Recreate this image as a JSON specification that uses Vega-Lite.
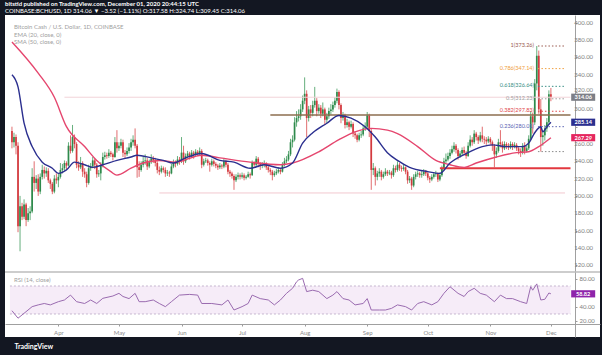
{
"$schema": "https://vega.github.io/schema/vega-lite/v6.json",
"autosize": {"type": "none"},
"width": 595,
"height": 322,
"padding": {"left": 5, "top": 15, "right": 2, "bottom": 18},
"background": "#131722",
"config": {"view": {"fill": "white", "stroke": null}, "font": "Lato", "axis": {"labelOverlap": false}},
"title": {"text": "bitstid published on TradingView.com, December 01, 2020 20:44:15 UTC", "subtitle": "COINBASE:BCHUSD, 1D  314.06 ▼ −3.52 (−1.11%)  O:317.58  H:324.74  L:309.45  C:314.06", "anchor": "start", "frame": "group", "color": "#ffffff", "fontSize": 6, "fontWeight": "bold", "subtitleColor": "#ffffff", "subtitleFontSize": 6, "subtitlePadding": 1.5, "offset": 1},
"data": {"values": [{}]},
"datasets": {
"candles": [
{"date":"2020-03-09","o":275,"h":280,"l":255,"c":262},
{"date":"2020-03-10","o":262,"h":273,"l":256,"c":268},
{"date":"2020-03-11","o":268,"h":271,"l":248,"c":258},
{"date":"2020-03-12","o":258,"h":262,"l":158,"c":165},
{"date":"2020-03-13","o":165,"h":200,"l":136,"c":188},
{"date":"2020-03-14","o":188,"h":192,"l":172,"c":176},
{"date":"2020-03-15","o":176,"h":196,"l":173,"c":190},
{"date":"2020-03-16","o":190,"h":192,"l":165,"c":172},
{"date":"2020-03-17","o":172,"h":186,"l":170,"c":180},
{"date":"2020-03-18","o":180,"h":188,"l":172,"c":182},
{"date":"2020-03-19","o":182,"h":232,"l":180,"c":222},
{"date":"2020-03-20","o":222,"h":240,"l":205,"c":215},
{"date":"2020-03-21","o":215,"h":224,"l":208,"c":220},
{"date":"2020-03-22","o":220,"h":225,"l":200,"c":205},
{"date":"2020-03-23","o":205,"h":226,"l":202,"c":222},
{"date":"2020-03-24","o":222,"h":236,"l":219,"c":230},
{"date":"2020-03-25","o":230,"h":234,"l":220,"c":226},
{"date":"2020-03-26","o":226,"h":233,"l":222,"c":229},
{"date":"2020-03-27","o":229,"h":232,"l":215,"c":218},
{"date":"2020-03-28","o":218,"h":220,"l":208,"c":214},
{"date":"2020-03-29","o":214,"h":216,"l":202,"c":205},
{"date":"2020-03-30","o":205,"h":224,"l":203,"c":220},
{"date":"2020-03-31","o":220,"h":226,"l":214,"c":218},
{"date":"2020-04-01","o":218,"h":226,"l":210,"c":222},
{"date":"2020-04-02","o":222,"h":238,"l":220,"c":230},
{"date":"2020-04-03","o":230,"h":237,"l":226,"c":232},
{"date":"2020-04-04","o":232,"h":241,"l":229,"c":238},
{"date":"2020-04-05","o":238,"h":240,"l":231,"c":235},
{"date":"2020-04-06","o":235,"h":262,"l":234,"c":258},
{"date":"2020-04-07","o":258,"h":270,"l":249,"c":252},
{"date":"2020-04-08","o":252,"h":282,"l":250,"c":268},
{"date":"2020-04-09","o":268,"h":271,"l":255,"c":260},
{"date":"2020-04-10","o":260,"h":262,"l":232,"c":236},
{"date":"2020-04-11","o":236,"h":240,"l":229,"c":233},
{"date":"2020-04-12","o":233,"h":245,"l":231,"c":238},
{"date":"2020-04-13","o":238,"h":240,"l":222,"c":228},
{"date":"2020-04-14","o":228,"h":232,"l":221,"c":225},
{"date":"2020-04-15","o":225,"h":228,"l":210,"c":215},
{"date":"2020-04-16","o":215,"h":236,"l":213,"c":232},
{"date":"2020-04-17","o":232,"h":238,"l":229,"c":234},
{"date":"2020-04-18","o":234,"h":245,"l":232,"c":241},
{"date":"2020-04-19","o":241,"h":243,"l":231,"c":236},
{"date":"2020-04-20","o":236,"h":238,"l":221,"c":225},
{"date":"2020-04-21","o":225,"h":230,"l":222,"c":226},
{"date":"2020-04-22","o":226,"h":239,"l":218,"c":236},
{"date":"2020-04-23","o":236,"h":250,"l":233,"c":245},
{"date":"2020-04-24","o":245,"h":251,"l":242,"c":247},
{"date":"2020-04-25","o":247,"h":250,"l":243,"c":246},
{"date":"2020-04-26","o":246,"h":254,"l":244,"c":250},
{"date":"2020-04-27","o":250,"h":252,"l":245,"c":248},
{"date":"2020-04-28","o":248,"h":250,"l":241,"c":245},
{"date":"2020-04-29","o":245,"h":268,"l":244,"c":262},
{"date":"2020-04-30","o":262,"h":276,"l":250,"c":255},
{"date":"2020-05-01","o":255,"h":262,"l":252,"c":258},
{"date":"2020-05-02","o":258,"h":266,"l":255,"c":262},
{"date":"2020-05-03","o":262,"h":265,"l":245,"c":250},
{"date":"2020-05-04","o":250,"h":253,"l":243,"c":248},
{"date":"2020-05-05","o":248,"h":256,"l":246,"c":252},
{"date":"2020-05-06","o":252,"h":261,"l":249,"c":256},
{"date":"2020-05-07","o":256,"h":266,"l":252,"c":262},
{"date":"2020-05-08","o":262,"h":270,"l":258,"c":265},
{"date":"2020-05-09","o":265,"h":278,"l":255,"c":258},
{"date":"2020-05-10","o":258,"h":260,"l":221,"c":233},
{"date":"2020-05-11","o":233,"h":240,"l":222,"c":230},
{"date":"2020-05-12","o":230,"h":240,"l":228,"c":236},
{"date":"2020-05-13","o":236,"h":245,"l":233,"c":240},
{"date":"2020-05-14","o":240,"h":248,"l":236,"c":241},
{"date":"2020-05-15","o":241,"h":244,"l":230,"c":234},
{"date":"2020-05-16","o":234,"h":242,"l":232,"c":239},
{"date":"2020-05-17","o":239,"h":248,"l":237,"c":243},
{"date":"2020-05-18","o":243,"h":246,"l":238,"c":241},
{"date":"2020-05-19","o":241,"h":244,"l":234,"c":238},
{"date":"2020-05-20","o":238,"h":240,"l":226,"c":230},
{"date":"2020-05-21","o":230,"h":234,"l":224,"c":228},
{"date":"2020-05-22","o":228,"h":235,"l":226,"c":232},
{"date":"2020-05-23","o":232,"h":234,"l":227,"c":230},
{"date":"2020-05-24","o":230,"h":233,"l":222,"c":226},
{"date":"2020-05-25","o":226,"h":230,"l":223,"c":227},
{"date":"2020-05-26","o":227,"h":229,"l":222,"c":226},
{"date":"2020-05-27","o":226,"h":237,"l":225,"c":234},
{"date":"2020-05-28","o":234,"h":242,"l":232,"c":238},
{"date":"2020-05-29","o":238,"h":241,"l":233,"c":237},
{"date":"2020-05-30","o":237,"h":246,"l":235,"c":242},
{"date":"2020-05-31","o":242,"h":245,"l":236,"c":240},
{"date":"2020-06-01","o":240,"h":268,"l":238,"c":250},
{"date":"2020-06-02","o":250,"h":258,"l":236,"c":240},
{"date":"2020-06-03","o":240,"h":249,"l":238,"c":246},
{"date":"2020-06-04","o":246,"h":252,"l":243,"c":249},
{"date":"2020-06-05","o":249,"h":251,"l":242,"c":245},
{"date":"2020-06-06","o":245,"h":253,"l":244,"c":250},
{"date":"2020-06-07","o":250,"h":252,"l":243,"c":248},
{"date":"2020-06-08","o":248,"h":254,"l":246,"c":251},
{"date":"2020-06-09","o":251,"h":253,"l":246,"c":249},
{"date":"2020-06-10","o":249,"h":256,"l":247,"c":252},
{"date":"2020-06-11","o":252,"h":254,"l":232,"c":236},
{"date":"2020-06-12","o":236,"h":243,"l":234,"c":240},
{"date":"2020-06-13","o":240,"h":244,"l":238,"c":241},
{"date":"2020-06-14","o":241,"h":243,"l":235,"c":238},
{"date":"2020-06-15","o":238,"h":240,"l":228,"c":236},
{"date":"2020-06-16","o":236,"h":243,"l":234,"c":240},
{"date":"2020-06-17","o":240,"h":242,"l":234,"c":237},
{"date":"2020-06-18","o":237,"h":239,"l":232,"c":235},
{"date":"2020-06-19","o":235,"h":237,"l":230,"c":233},
{"date":"2020-06-20","o":233,"h":238,"l":231,"c":235},
{"date":"2020-06-21","o":235,"h":237,"l":231,"c":234},
{"date":"2020-06-22","o":234,"h":243,"l":232,"c":240},
{"date":"2020-06-23","o":240,"h":242,"l":233,"c":236},
{"date":"2020-06-24","o":236,"h":238,"l":225,"c":228},
{"date":"2020-06-25","o":228,"h":230,"l":222,"c":226},
{"date":"2020-06-26","o":226,"h":228,"l":220,"c":223},
{"date":"2020-06-27","o":223,"h":225,"l":207,"c":218},
{"date":"2020-06-28","o":218,"h":225,"l":216,"c":222},
{"date":"2020-06-29","o":222,"h":227,"l":219,"c":224},
{"date":"2020-06-30","o":224,"h":226,"l":219,"c":222},
{"date":"2020-07-01","o":222,"h":227,"l":220,"c":224},
{"date":"2020-07-02","o":224,"h":226,"l":218,"c":221},
{"date":"2020-07-03","o":221,"h":224,"l":219,"c":222},
{"date":"2020-07-04","o":222,"h":228,"l":221,"c":225},
{"date":"2020-07-05","o":225,"h":227,"l":220,"c":224},
{"date":"2020-07-06","o":224,"h":241,"l":223,"c":238},
{"date":"2020-07-07","o":238,"h":240,"l":233,"c":236},
{"date":"2020-07-08","o":236,"h":246,"l":234,"c":243},
{"date":"2020-07-09","o":243,"h":245,"l":233,"c":237},
{"date":"2020-07-10","o":237,"h":239,"l":230,"c":235},
{"date":"2020-07-11","o":235,"h":239,"l":232,"c":236},
{"date":"2020-07-12","o":236,"h":241,"l":233,"c":238},
{"date":"2020-07-13","o":238,"h":239,"l":230,"c":233},
{"date":"2020-07-14","o":233,"h":235,"l":227,"c":230},
{"date":"2020-07-15","o":230,"h":232,"l":224,"c":228},
{"date":"2020-07-16","o":228,"h":230,"l":218,"c":224},
{"date":"2020-07-17","o":224,"h":229,"l":222,"c":226},
{"date":"2020-07-18","o":226,"h":231,"l":224,"c":228},
{"date":"2020-07-19","o":228,"h":233,"l":226,"c":230},
{"date":"2020-07-20","o":230,"h":232,"l":225,"c":228},
{"date":"2020-07-21","o":228,"h":239,"l":227,"c":236},
{"date":"2020-07-22","o":236,"h":244,"l":234,"c":240},
{"date":"2020-07-23","o":240,"h":246,"l":238,"c":242},
{"date":"2020-07-24","o":242,"h":252,"l":240,"c":248},
{"date":"2020-07-25","o":248,"h":266,"l":246,"c":262},
{"date":"2020-07-26","o":262,"h":270,"l":256,"c":265},
{"date":"2020-07-27","o":265,"h":291,"l":263,"c":285},
{"date":"2020-07-28","o":285,"h":298,"l":280,"c":290},
{"date":"2020-07-29","o":290,"h":300,"l":286,"c":292},
{"date":"2020-07-30","o":292,"h":306,"l":288,"c":300},
{"date":"2020-07-31","o":300,"h":316,"l":297,"c":310},
{"date":"2020-08-01","o":310,"h":337,"l":306,"c":318},
{"date":"2020-08-02","o":318,"h":322,"l":268,"c":290},
{"date":"2020-08-03","o":290,"h":304,"l":286,"c":300},
{"date":"2020-08-04","o":300,"h":305,"l":290,"c":296},
{"date":"2020-08-05","o":296,"h":310,"l":292,"c":305},
{"date":"2020-08-06","o":305,"h":326,"l":302,"c":310},
{"date":"2020-08-07","o":310,"h":313,"l":292,"c":298},
{"date":"2020-08-08","o":298,"h":306,"l":295,"c":302},
{"date":"2020-08-09","o":302,"h":305,"l":290,"c":295},
{"date":"2020-08-10","o":295,"h":308,"l":292,"c":300},
{"date":"2020-08-11","o":300,"h":302,"l":282,"c":288},
{"date":"2020-08-12","o":288,"h":296,"l":284,"c":292},
{"date":"2020-08-13","o":292,"h":302,"l":289,"c":298},
{"date":"2020-08-14","o":298,"h":306,"l":294,"c":300},
{"date":"2020-08-15","o":300,"h":309,"l":297,"c":305},
{"date":"2020-08-16","o":305,"h":314,"l":302,"c":310},
{"date":"2020-08-17","o":310,"h":324,"l":307,"c":320},
{"date":"2020-08-18","o":320,"h":322,"l":300,"c":305},
{"date":"2020-08-19","o":305,"h":307,"l":284,"c":290},
{"date":"2020-08-20","o":290,"h":297,"l":287,"c":293},
{"date":"2020-08-21","o":293,"h":295,"l":278,"c":282},
{"date":"2020-08-22","o":282,"h":289,"l":279,"c":285},
{"date":"2020-08-23","o":285,"h":287,"l":276,"c":280},
{"date":"2020-08-24","o":280,"h":287,"l":278,"c":283},
{"date":"2020-08-25","o":283,"h":285,"l":268,"c":272},
{"date":"2020-08-26","o":272,"h":275,"l":266,"c":270},
{"date":"2020-08-27","o":270,"h":272,"l":262,"c":265},
{"date":"2020-08-28","o":265,"h":273,"l":263,"c":270},
{"date":"2020-08-29","o":270,"h":275,"l":267,"c":271},
{"date":"2020-08-30","o":271,"h":282,"l":269,"c":278},
{"date":"2020-08-31","o":278,"h":285,"l":275,"c":280},
{"date":"2020-09-01","o":280,"h":297,"l":278,"c":293},
{"date":"2020-09-02","o":293,"h":295,"l":268,"c":275},
{"date":"2020-09-03","o":275,"h":278,"l":207,"c":230},
{"date":"2020-09-04","o":230,"h":238,"l":224,"c":232},
{"date":"2020-09-05","o":232,"h":234,"l":212,"c":222},
{"date":"2020-09-06","o":222,"h":229,"l":218,"c":226},
{"date":"2020-09-07","o":226,"h":232,"l":222,"c":228},
{"date":"2020-09-08","o":228,"h":230,"l":218,"c":222},
{"date":"2020-09-09","o":222,"h":228,"l":220,"c":225},
{"date":"2020-09-10","o":225,"h":232,"l":223,"c":228},
{"date":"2020-09-11","o":228,"h":230,"l":223,"c":226},
{"date":"2020-09-12","o":226,"h":230,"l":224,"c":227},
{"date":"2020-09-13","o":227,"h":229,"l":220,"c":224},
{"date":"2020-09-14","o":224,"h":236,"l":222,"c":232},
{"date":"2020-09-15","o":232,"h":235,"l":227,"c":230},
{"date":"2020-09-16","o":230,"h":240,"l":228,"c":236},
{"date":"2020-09-17","o":236,"h":238,"l":229,"c":232},
{"date":"2020-09-18","o":232,"h":235,"l":228,"c":231},
{"date":"2020-09-19","o":231,"h":236,"l":229,"c":233},
{"date":"2020-09-20","o":233,"h":234,"l":225,"c":228},
{"date":"2020-09-21","o":228,"h":230,"l":214,"c":218},
{"date":"2020-09-22","o":218,"h":223,"l":215,"c":220},
{"date":"2020-09-23","o":220,"h":222,"l":207,"c":212},
{"date":"2020-09-24","o":212,"h":225,"l":210,"c":222},
{"date":"2020-09-25","o":222,"h":228,"l":219,"c":225},
{"date":"2020-09-26","o":225,"h":229,"l":222,"c":226},
{"date":"2020-09-27","o":226,"h":228,"l":221,"c":224},
{"date":"2020-09-28","o":224,"h":229,"l":221,"c":225},
{"date":"2020-09-29","o":225,"h":231,"l":223,"c":228},
{"date":"2020-09-30","o":228,"h":230,"l":223,"c":226},
{"date":"2020-10-01","o":226,"h":228,"l":218,"c":221},
{"date":"2020-10-02","o":221,"h":223,"l":215,"c":219},
{"date":"2020-10-03","o":219,"h":225,"l":217,"c":222},
{"date":"2020-10-04","o":222,"h":227,"l":220,"c":225},
{"date":"2020-10-05","o":225,"h":229,"l":222,"c":226},
{"date":"2020-10-06","o":226,"h":227,"l":216,"c":219},
{"date":"2020-10-07","o":219,"h":227,"l":217,"c":224},
{"date":"2020-10-08","o":224,"h":235,"l":222,"c":232},
{"date":"2020-10-09","o":232,"h":244,"l":230,"c":240},
{"date":"2020-10-10","o":240,"h":249,"l":238,"c":242},
{"date":"2020-10-11","o":242,"h":250,"l":240,"c":246},
{"date":"2020-10-12","o":246,"h":254,"l":243,"c":250},
{"date":"2020-10-13","o":250,"h":258,"l":248,"c":254},
{"date":"2020-10-14","o":254,"h":262,"l":251,"c":258},
{"date":"2020-10-15","o":258,"h":260,"l":249,"c":253},
{"date":"2020-10-16","o":253,"h":255,"l":242,"c":246},
{"date":"2020-10-17","o":246,"h":252,"l":244,"c":249},
{"date":"2020-10-18","o":249,"h":256,"l":247,"c":253},
{"date":"2020-10-19","o":253,"h":257,"l":247,"c":250},
{"date":"2020-10-20","o":250,"h":252,"l":243,"c":246},
{"date":"2020-10-21","o":246,"h":262,"l":245,"c":258},
{"date":"2020-10-22","o":258,"h":270,"l":256,"c":265},
{"date":"2020-10-23","o":265,"h":268,"l":258,"c":262},
{"date":"2020-10-24","o":262,"h":276,"l":260,"c":272},
{"date":"2020-10-25","o":272,"h":274,"l":264,"c":268},
{"date":"2020-10-26","o":268,"h":270,"l":260,"c":264},
{"date":"2020-10-27","o":264,"h":274,"l":262,"c":270},
{"date":"2020-10-28","o":270,"h":280,"l":262,"c":266},
{"date":"2020-10-29","o":266,"h":269,"l":260,"c":265},
{"date":"2020-10-30","o":265,"h":268,"l":259,"c":263},
{"date":"2020-10-31","o":263,"h":269,"l":261,"c":266},
{"date":"2020-11-01","o":266,"h":268,"l":259,"c":262},
{"date":"2020-11-02","o":262,"h":264,"l":252,"c":258},
{"date":"2020-11-03","o":258,"h":260,"l":233,"c":248},
{"date":"2020-11-04","o":248,"h":256,"l":244,"c":252},
{"date":"2020-11-05","o":252,"h":266,"l":250,"c":262},
{"date":"2020-11-06","o":262,"h":276,"l":256,"c":260},
{"date":"2020-11-07","o":260,"h":263,"l":250,"c":255},
{"date":"2020-11-08","o":255,"h":263,"l":253,"c":260},
{"date":"2020-11-09","o":260,"h":262,"l":254,"c":258},
{"date":"2020-11-10","o":258,"h":261,"l":253,"c":256},
{"date":"2020-11-11","o":256,"h":263,"l":254,"c":260},
{"date":"2020-11-12","o":260,"h":262,"l":253,"c":257},
{"date":"2020-11-13","o":257,"h":262,"l":255,"c":259},
{"date":"2020-11-14","o":259,"h":261,"l":252,"c":255},
{"date":"2020-11-15","o":255,"h":257,"l":248,"c":252},
{"date":"2020-11-16","o":252,"h":255,"l":245,"c":250},
{"date":"2020-11-17","o":250,"h":261,"l":248,"c":258},
{"date":"2020-11-18","o":258,"h":262,"l":248,"c":252},
{"date":"2020-11-19","o":252,"h":258,"l":250,"c":255},
{"date":"2020-11-20","o":255,"h":270,"l":253,"c":266},
{"date":"2020-11-21","o":266,"h":298,"l":264,"c":292},
{"date":"2020-11-22","o":292,"h":296,"l":272,"c":285},
{"date":"2020-11-23","o":285,"h":335,"l":282,"c":330},
{"date":"2020-11-24","o":330,"h":373.26,"l":322,"c":362},
{"date":"2020-11-25","o":362,"h":368,"l":295,"c":300},
{"date":"2020-11-26","o":300,"h":312,"l":251.2,"c":268},
{"date":"2020-11-27","o":268,"h":276,"l":258,"c":270},
{"date":"2020-11-28","o":270,"h":282,"l":264,"c":278},
{"date":"2020-11-29","o":278,"h":290,"l":274,"c":285},
{"date":"2020-11-30","o":285,"h":322,"l":283,"c":317.58},
{"date":"2020-12-01","o":317.58,"h":324.74,"l":309.45,"c":314.06}
],
"ema": [
{"date":"2020-03-09","v":340},{"date":"2020-03-12","v":326},{"date":"2020-03-15","v":284},{"date":"2020-03-19","v":257},{"date":"2020-03-24","v":239},{"date":"2020-03-29","v":232},{"date":"2020-04-01","v":226},{"date":"2020-04-05","v":230},{"date":"2020-04-09","v":239},{"date":"2020-04-14","v":236},{"date":"2020-04-18","v":233},{"date":"2020-04-23","v":236},{"date":"2020-04-30","v":241},{"date":"2020-05-07","v":245},{"date":"2020-05-10","v":247},{"date":"2020-05-17","v":244},{"date":"2020-05-23","v":241},{"date":"2020-05-28","v":238},{"date":"2020-06-03","v":244},{"date":"2020-06-11","v":249},{"date":"2020-06-20","v":241},{"date":"2020-06-27","v":239},{"date":"2020-07-05","v":232},{"date":"2020-07-12","v":236},{"date":"2020-07-20","v":232},{"date":"2020-07-26","v":238},{"date":"2020-07-31","v":261},{"date":"2020-08-05","v":273},{"date":"2020-08-12","v":284},{"date":"2020-08-18","v":293},{"date":"2020-08-24","v":290},{"date":"2020-08-31","v":280},{"date":"2020-09-05","v":268},{"date":"2020-09-11","v":250},{"date":"2020-09-16","v":241},{"date":"2020-09-22","v":233},{"date":"2020-10-01","v":228},{"date":"2020-10-07","v":226},{"date":"2020-10-12","v":238},{"date":"2020-10-20","v":249},{"date":"2020-10-28","v":257},{"date":"2020-11-02","v":259},{"date":"2020-11-09","v":257},{"date":"2020-11-17","v":257},{"date":"2020-11-20","v":261},{"date":"2020-11-23","v":273},{"date":"2020-11-26","v":280},{"date":"2020-11-27","v":274},{"date":"2020-11-29","v":280},{"date":"2020-12-01","v":285.14}
],
"sma": [
{"date":"2020-03-09","v":378},{"date":"2020-03-22","v":342},{"date":"2020-03-30","v":314},{"date":"2020-04-05","v":280},{"date":"2020-04-14","v":257},{"date":"2020-04-20","v":241},{"date":"2020-04-27","v":228},{"date":"2020-04-30","v":224},{"date":"2020-05-07","v":232},{"date":"2020-05-13","v":238},{"date":"2020-05-21","v":241},{"date":"2020-05-29","v":239},{"date":"2020-06-11","v":247},{"date":"2020-06-20","v":244},{"date":"2020-07-05","v":239},{"date":"2020-07-20","v":236},{"date":"2020-07-26","v":238},{"date":"2020-08-08","v":251},{"date":"2020-08-18","v":265},{"date":"2020-08-26","v":274},{"date":"2020-09-03","v":278},{"date":"2020-09-11","v":276},{"date":"2020-09-16","v":272},{"date":"2020-09-26","v":257},{"date":"2020-10-05","v":241},{"date":"2020-10-12","v":236},{"date":"2020-10-19","v":233},{"date":"2020-10-25","v":238},{"date":"2020-11-04","v":245},{"date":"2020-11-14","v":250},{"date":"2020-11-20","v":251},{"date":"2020-11-25","v":257},{"date":"2020-12-01","v":267.29}
],
"rsi": [
{"date":"2020-03-09","r":34.7},{"date":"2020-03-12","r":24},{"date":"2020-03-15","r":31},{"date":"2020-03-19","r":40.5},{"date":"2020-03-22","r":43},{"date":"2020-03-25","r":45},{"date":"2020-03-28","r":43},{"date":"2020-04-01","r":47.6},{"date":"2020-04-04","r":50},{"date":"2020-04-07","r":57},{"date":"2020-04-10","r":47.6},{"date":"2020-04-14","r":45},{"date":"2020-04-17","r":50},{"date":"2020-04-20","r":45},{"date":"2020-04-23","r":52.4},{"date":"2020-04-28","r":55.7},{"date":"2020-05-01","r":59.5},{"date":"2020-05-03","r":55},{"date":"2020-05-06","r":52},{"date":"2020-05-09","r":59.5},{"date":"2020-05-11","r":47.6},{"date":"2020-05-14","r":47.6},{"date":"2020-05-18","r":50},{"date":"2020-05-21","r":45},{"date":"2020-05-24","r":40.5},{"date":"2020-05-27","r":47.6},{"date":"2020-05-31","r":57},{"date":"2020-06-05","r":58},{"date":"2020-06-09","r":57},{"date":"2020-06-11","r":45},{"date":"2020-06-16","r":45},{"date":"2020-06-21","r":43},{"date":"2020-06-24","r":50},{"date":"2020-06-27","r":35.7},{"date":"2020-07-01","r":40.5},{"date":"2020-07-04","r":45},{"date":"2020-07-06","r":57},{"date":"2020-07-10","r":52},{"date":"2020-07-14","r":50},{"date":"2020-07-17","r":43},{"date":"2020-07-20","r":50},{"date":"2020-07-23","r":59.5},{"date":"2020-07-26","r":66.7},{"date":"2020-07-28","r":76},{"date":"2020-07-29","r":78.6},{"date":"2020-07-31","r":80.9},{"date":"2020-08-02","r":62},{"date":"2020-08-05","r":64},{"date":"2020-08-08","r":62},{"date":"2020-08-12","r":52},{"date":"2020-08-15","r":57},{"date":"2020-08-17","r":62},{"date":"2020-08-20","r":52},{"date":"2020-08-23","r":50},{"date":"2020-08-26","r":43},{"date":"2020-08-30","r":45},{"date":"2020-09-01","r":52},{"date":"2020-09-03","r":35.7},{"date":"2020-09-07","r":35.7},{"date":"2020-09-10","r":35.7},{"date":"2020-09-13","r":38},{"date":"2020-09-16","r":43},{"date":"2020-09-20","r":40.5},{"date":"2020-09-23","r":35.7},{"date":"2020-09-26","r":45},{"date":"2020-09-29","r":47.6},{"date":"2020-10-03","r":43},{"date":"2020-10-06","r":47.6},{"date":"2020-10-09","r":59.5},{"date":"2020-10-12","r":69},{"date":"2020-10-16","r":59.5},{"date":"2020-10-19","r":55},{"date":"2020-10-21","r":62},{"date":"2020-10-24","r":66.7},{"date":"2020-10-27","r":59.5},{"date":"2020-10-30","r":57},{"date":"2020-11-03","r":47.6},{"date":"2020-11-06","r":57},{"date":"2020-11-09","r":52},{"date":"2020-11-12","r":52},{"date":"2020-11-16","r":47.6},{"date":"2020-11-19","r":45},{"date":"2020-11-21","r":69},{"date":"2020-11-22","r":64},{"date":"2020-11-24","r":73},{"date":"2020-11-26","r":50},{"date":"2020-11-28","r":51},{"date":"2020-11-30","r":60},{"date":"2020-12-01","r":58.82}
],
"fib": [
{"level":"1","value":373.26,"label":"1(373.26)"},
{"level":"0.786","value":347.14,"label":"0.786(347.14)"},
{"level":"0.618","value":326.64,"label":"0.618(326.64)"},
{"level":"0.5","value":312.23,"label":"0.5(312.23)"},
{"level":"0.382","value":297.83,"label":"0.382(297.83)"},
{"level":"0.236","value":280.01,"label":"0.236(280.01)"},
{"level":"0","value":251.2,"label":"0(251.20)"}
],
"tags": [
{"name":"close","value":314.06},
{"name":"ema","value":285.14},
{"name":"sma","value":267.29}
],
"rsitag": [
{"name":"rsi","value":58.82}
],
"yticks": [
{"value":120},{"value":140},{"value":160},{"value":180},{"value":200},{"value":220},{"value":240},{"value":260},{"value":300},{"value":320},{"value":340},{"value":360},{"value":380},{"value":400}
]
},
"resolve": {"scale": {"y": "independent"}, "axis": {"y": "independent"}},
"layer": [
{
"resolve": {"scale": {"color": "independent"}},
"layer": [
{"data": {"name": "candles"}, "mark": {"type": "rule", "strokeWidth": 0.8},
 "encoding": {
  "x": {"field": "date", "type": "temporal",
   "scale": {"type": "utc", "domain": [{"year": 2020, "month": 3, "date": 8, "hours": 0, "minutes": 37, "utc": true}, {"year": 2020, "month": 12, "date": 22, "hours": 20, "minutes": 24, "utc": true}]},
   "axis": {"orient": "bottom", "offset": -13, "format": "%b", "values": [{"year": 2020, "month": 4, "date": 1, "utc": true}, {"year": 2020, "month": 5, "date": 1, "utc": true}, {"year": 2020, "month": 6, "date": 1, "utc": true}, {"year": 2020, "month": 7, "date": 1, "utc": true}, {"year": 2020, "month": 8, "date": 1, "utc": true}, {"year": 2020, "month": 9, "date": 1, "utc": true}, {"year": 2020, "month": 10, "date": 1, "utc": true}, {"year": 2020, "month": 11, "date": 1, "utc": true}, {"year": 2020, "month": 12, "date": 1, "utc": true}],
    "labelFontSize": 6, "labelColor": "#8c8c8c", "tickSize": 2, "tickColor": "#9a9a9a", "domainColor": "#a0a0a0", "grid": false, "labelPadding": 3, "labelOverlap": false,
    "title": "TradingView", "titleColor": "#ffffff", "titleFontSize": 7, "titleFontWeight": "bold", "titleX": 9, "titleY": 22, "titleAlign": "left", "titleBaseline": "middle", "titleAnchor": "start"}},
  "y": {"field": "l", "type": "quantitative", "title": null,
   "scale": {"domain": [36.9, 409.1], "nice": false, "zero": false},
   "axis": {"orient": "right", "offset": -25, "values": [120, 140, 160, 180, 200, 220, 240, 260, 280, 300, 320, 340, 360, 380, 400], "labels": false, "tickSize": 2, "tickColor": "#9a9a9a", "domainColor": "#a0a0a0", "grid": false}},
  "y2": {"field": "h"},
  "color": {"condition": {"test": "datum.c >= datum.o", "value": "#3f9a5c"}, "value": "#d9474a"}
 }},
{"data": {"name": "candles"}, "mark": {"type": "bar", "size": 1.7},
 "encoding": {
  "x": {"field": "date", "type": "temporal"},
  "y": {"field": "o", "type": "quantitative", "title": null},
  "y2": {"field": "c"},
  "color": {"condition": {"test": "datum.c >= datum.o", "value": "#2f8a4c"}, "value": "#d33a3f"}
 }},
{"data": {"name": "yticks"}, "transform": [{"filter": "datum.value != 320"}], "mark": {"type": "text", "align": "left", "baseline": "middle", "fontSize": 6, "color": "#808080"},
 "encoding": {"x": {"datum": {"year": 2020, "month": 12, "date": 12, "hours": 14, "utc": true}, "type": "temporal"}, "y": {"field": "value", "type": "quantitative", "title": null}, "text": {"field": "value", "type": "quantitative", "format": ".2f"}}},
{"data": {"name": "yticks"}, "transform": [{"filter": "datum.value == 320"}], "mark": {"type": "text", "align": "left", "baseline": "middle", "fontSize": 6, "color": "#808080", "dy": -2.5},
 "encoding": {"x": {"datum": {"year": 2020, "month": 12, "date": 12, "hours": 14, "utc": true}, "type": "temporal"}, "y": {"field": "value", "type": "quantitative", "title": null}, "text": {"field": "value", "type": "quantitative", "format": ".2f"}}},
{"mark": {"type": "rule", "color": "#f2d3d8", "strokeWidth": 1},
 "encoding": {"x": {"datum": {"year": 2020, "month": 4, "date": 4, "utc": true}, "type": "temporal"}, "x2": {"datum": {"year": 2020, "month": 12, "date": 10, "hours": 17, "utc": true}}, "y": {"datum": 314.06, "type": "quantitative"}}},
{"mark": {"type": "rule", "color": "#f2c9cf", "strokeWidth": 1},
 "encoding": {"x": {"datum": {"year": 2020, "month": 5, "date": 21, "utc": true}, "type": "temporal"}, "x2": {"datum": {"year": 2020, "month": 12, "date": 8, "utc": true}}, "y": {"datum": 203.4, "type": "quantitative"}}},
{"mark": {"type": "rule", "color": "#8d6e4f", "strokeWidth": 1.6},
 "encoding": {"x": {"datum": {"year": 2020, "month": 7, "date": 15, "utc": true}, "type": "temporal"}, "x2": {"datum": {"year": 2020, "month": 12, "date": 10, "hours": 17, "utc": true}}, "y": {"datum": 293.5, "type": "quantitative"}}},
{"mark": {"type": "rule", "color": "#e2383f", "strokeWidth": 2},
 "encoding": {"x": {"datum": {"year": 2020, "month": 10, "date": 7, "utc": true}, "type": "temporal"}, "x2": {"datum": {"year": 2020, "month": 12, "date": 10, "hours": 17, "utc": true}}, "y": {"datum": 232, "type": "quantitative"}}},
{"data": {"name": "sma"}, "mark": {"type": "line", "color": "#e5466e", "strokeWidth": 1.4, "interpolate": "monotone"},
 "encoding": {"x": {"field": "date", "type": "temporal"}, "y": {"field": "v", "type": "quantitative", "title": null}}},
{"data": {"name": "ema"}, "mark": {"type": "line", "color": "#2b2f8f", "strokeWidth": 1.4, "interpolate": "monotone"},
 "encoding": {"x": {"field": "date", "type": "temporal"}, "y": {"field": "v", "type": "quantitative", "title": null}}},
{"data": {"name": "fib"}, "mark": {"type": "rule", "strokeWidth": 1, "strokeDash": [1.5, 2]},
 "encoding": {"x": {"datum": {"year": 2020, "month": 11, "date": 24, "hours": 14, "utc": true}, "type": "temporal"}, "x2": {"datum": {"year": 2020, "month": 12, "date": 8, "hours": 5, "utc": true}}, "y": {"field": "value", "type": "quantitative", "title": null},
  "color": {"field": "level", "type": "nominal", "legend": null, "scale": {"domain": ["1", "0.786", "0.618", "0.5", "0.382", "0.236", "0"], "range": ["#9a5a50", "#f0a040", "#3a8f86", "#9e9e9e", "#e0484a", "#5a63b3", "#8a8a8a"]}}}},
{"data": {"name": "fib"}, "transform": [{"filter": "datum.level != '0'"}], "mark": {"type": "text", "align": "right", "baseline": "middle", "fontSize": 5.5, "dy": -1},
 "encoding": {"x": {"datum": {"year": 2020, "month": 11, "date": 22, "hours": 15, "utc": true}, "type": "temporal"}, "y": {"field": "value", "type": "quantitative", "title": null}, "text": {"field": "label"},
  "color": {"field": "level", "type": "nominal", "legend": null, "scale": {"domain": ["1", "0.786", "0.618", "0.5", "0.382", "0.236", "0"], "range": ["#9a5a50", "#f0a040", "#3a8f86", "#9e9e9e", "#e0484a", "#5a63b3", "#8a8a8a"]}}}},
{"data": {"name": "tags"}, "mark": {"type": "point", "filled": true, "opacity": 1, "size": 576, "shape": "M-1,-0.3H1V0.3H-1Z"},
 "encoding": {"x": {"datum": {"year": 2020, "month": 12, "date": 17, "utc": true}, "type": "temporal"}, "y": {"field": "value", "type": "quantitative", "title": null},
  "color": {"field": "name", "type": "nominal", "legend": null, "scale": {"domain": ["close", "ema", "sma"], "range": ["#7d7f87", "#2b2f8f", "#e5265e"]}}}},
{"data": {"name": "tags"}, "mark": {"type": "text", "color": "#ffffff", "fontSize": 5.6, "fontWeight": "bold", "align": "center", "baseline": "middle"},
 "encoding": {"x": {"datum": {"year": 2020, "month": 12, "date": 17, "utc": true}, "type": "temporal"}, "y": {"field": "value", "type": "quantitative", "title": null}, "text": {"field": "value", "type": "quantitative", "format": ".2f"}}},
{"mark": {"type": "text", "align": "left", "baseline": "top", "fontSize": 6, "color": "#a0a0a0", "lineHeight": 7.5},
 "encoding": {"x": {"datum": {"year": 2020, "month": 3, "date": 10, "utc": true}, "type": "temporal"}, "y": {"datum": 398.2, "type": "quantitative"}, "text": {"value": ["Bitcoin Cash / U.S. Dollar, 1D, COINBASE", "EMA (20, close, 0)", "SMA (50, close, 0)"]}}}
]
},
{
"layer": [
{"mark": {"type": "rect", "color": "#9c27b0", "opacity": 0.09},
 "encoding": {"x": {"datum": {"year": 2020, "month": 3, "date": 8, "utc": true}, "type": "temporal"}, "x2": {"datum": {"year": 2020, "month": 12, "date": 10, "hours": 17, "utc": true}},
  "y": {"datum": 30, "type": "quantitative", "scale": {"domain": [-2.86, 457.1], "nice": false, "zero": false},
   "axis": {"orient": "right", "offset": -25, "values": [20, 40, 80], "format": ".2f", "labelFontSize": 6, "labelColor": "#808080", "tickSize": 2, "tickColor": "#9a9a9a", "domain": false, "grid": false, "labelPadding": 2, "labelOverlap": false, "title": null}},
  "y2": {"datum": 70}}},
{"mark": {"type": "rule", "color": "#b9a6c4", "strokeWidth": 0.8, "strokeDash": [2, 2]},
 "encoding": {"x": {"datum": {"year": 2020, "month": 3, "date": 8, "utc": true}, "type": "temporal"}, "x2": {"datum": {"year": 2020, "month": 12, "date": 10, "hours": 17, "utc": true}}, "y": {"datum": 70, "type": "quantitative"}}},
{"mark": {"type": "rule", "color": "#b9a6c4", "strokeWidth": 0.8, "strokeDash": [2, 2]},
 "encoding": {"x": {"datum": {"year": 2020, "month": 3, "date": 8, "utc": true}, "type": "temporal"}, "x2": {"datum": {"year": 2020, "month": 12, "date": 10, "hours": 17, "utc": true}}, "y": {"datum": 30, "type": "quantitative"}}},
{"mark": {"type": "rule", "color": "#bdbdbd", "strokeWidth": 1.5},
 "encoding": {"y": {"datum": 90, "type": "quantitative"}}},
{"data": {"name": "rsi"}, "mark": {"type": "line", "color": "#9a6bb0", "strokeWidth": 1},
 "encoding": {"x": {"field": "date", "type": "temporal"}, "y": {"field": "r", "type": "quantitative", "title": null}}},
{"data": {"name": "rsitag"}, "mark": {"type": "point", "filled": true, "opacity": 1, "size": 576, "shape": "M-1,-0.3H1V0.3H-1Z", "color": "#8e24aa"},
 "encoding": {"x": {"datum": {"year": 2020, "month": 12, "date": 17, "utc": true}, "type": "temporal"}, "y": {"field": "value", "type": "quantitative", "title": null}}},
{"data": {"name": "rsitag"}, "mark": {"type": "text", "color": "#ffffff", "fontSize": 5.6, "fontWeight": "bold", "align": "center", "baseline": "middle"},
 "encoding": {"x": {"datum": {"year": 2020, "month": 12, "date": 17, "utc": true}, "type": "temporal"}, "y": {"field": "value", "type": "quantitative", "title": null}, "text": {"field": "value", "type": "quantitative", "format": ".2f"}}},
{"mark": {"type": "text", "align": "left", "baseline": "top", "fontSize": 6, "color": "#a0a0a0"},
 "encoding": {"x": {"datum": {"year": 2020, "month": 3, "date": 10, "utc": true}, "type": "temporal"}, "y": {"datum": 82.9, "type": "quantitative"}, "text": {"value": "RSI (14, close)"}}}
]
}
]
}
